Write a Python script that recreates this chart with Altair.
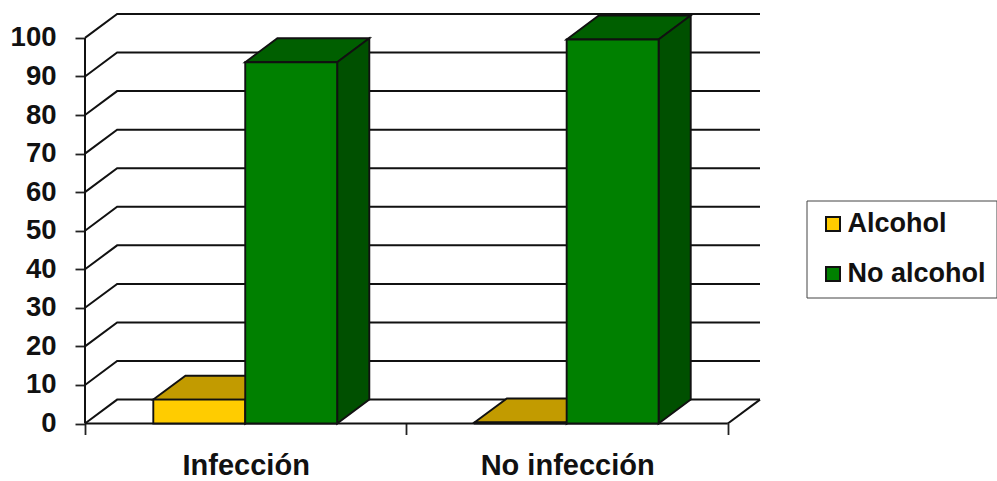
import altair as alt
import pandas as pd

categories = ["Infección", "No infección"]
series_names = ["Alcohol", "No alcohol"]
alcohol = [6.2, 0.3]
no_alcohol = [93.7, 99.6]
y_ticks = [0, 10, 20, 30, 40, 50, 60, 70, 80, 90, 100]

front_colors = ["#FFCC00", "#008000"]
top_colors = ["#C29B00", "#005F00"]
side_colors = ["#997A00", "#005000"]

# Depth of the pseudo-3D box, expressed in axis units
DX = 0.1
DY = 6.2
BAR_START = 0.2125
BAR_WIDTH = 0.286
X_MAX = 2.1
Y_MAX = 106.2
FONT = "Liberation Sans"

x_scale = alt.Scale(domain=[0, X_MAX], nice=False, zero=False)
y_scale = alt.Scale(domain=[0, Y_MAX], nice=False)

# Back wall and floor lines
grid_rows = []
for v in y_ticks:
    for x, y in [(0, v), (DX, v + DY), (X_MAX, v + DY)]:
        grid_rows.append({"x": x, "y": y, "line": f"g{v}"})
floor_rows = [
    {"x": 0, "y": 0, "line": "front"},
    {"x": 2, "y": 0, "line": "front"},
    {"x": 2, "y": 0, "line": "side"},
    {"x": X_MAX, "y": DY, "line": "side"},
    {"x": 0, "y": 0, "line": "axis"},
    {"x": 0, "y": 100, "line": "axis"},
]

front_rows, top_rows, side_rows = [], [], []
for s, (name, values) in enumerate(zip(series_names, [alcohol, no_alcohol])):
    for c, v in enumerate(values):
        x0 = c + BAR_START + s * BAR_WIDTH
        x1 = x0 + BAR_WIDTH
        key = f"{s}-{c}"
        front_rows.append({"x": x0, "x2": x1, "y": 0, "y2": v, "series": name})
        for x, y, y2 in [
            (x0, v, v),
            (x0 + DX, v + DY, v),
            (x1, v + DY, v),
            (x1 + DX, v + DY, v + DY),
        ]:
            top_rows.append({"x": x, "y": y, "y2": y2, "key": key, "s": s})
        for x, y, y2 in [(x1, 0, v), (x1 + DX, DY, v + DY)]:
            side_rows.append({"x": x, "y": y, "y2": y2, "key": key, "s": s})

top_df = pd.DataFrame(top_rows)
side_df = pd.DataFrame(side_rows)

x_axis = alt.Axis(
    values=[0, 0.5, 1, 1.5, 2],
    title=None,
    domain=False,
    grid=False,
    tickSize=11,
    tickWidth=1.8,
    tickColor="#222222",
    tickOpacity=alt.expr("datum.value % 1 === 0 ? 1 : 0"),
    labelExpr="datum.value === 0.5 ? 'Infección' : datum.value === 1.5 ? 'No infección' : ''",
    labelFont=FONT,
    labelFontSize=29,
    labelFontWeight="bold",
    labelColor="#111111",
    labelPadding=17,
    labelOverlap=False,
    labelFlush=False,
    labelBound=False,
)
y_axis = alt.Axis(
    values=y_ticks,
    title=None,
    domain=False,
    grid=False,
    tickSize=10,
    tickWidth=1.8,
    tickColor="#222222",
    labelFont=FONT,
    labelFontSize=27.5,
    labelFontWeight="bold",
    labelColor="#111111",
    labelPadding=19,
    labelOverlap=False,
)


def line_layer(rows, width):
    return (
        alt.Chart(pd.DataFrame(rows))
        .mark_line(color="#111111", strokeWidth=width, interpolate="linear", clip=False)
        .encode(
            x=alt.X("x:Q", scale=x_scale, axis=x_axis),
            y=alt.Y("y:Q", scale=y_scale, axis=y_axis),
            detail="line:N",
        )
    )


def face_layer(df, fill):
    return (
        alt.Chart(df)
        .mark_area(fill=fill, stroke="#111111", strokeWidth=1.9, interpolate="linear")
        .encode(
            x=alt.X("x:Q", scale=x_scale),
            y=alt.Y("y:Q", scale=y_scale, stack=None),
            y2="y2:Q",
            detail="key:N",
        )
    )


layers = [line_layer(grid_rows, 2), line_layer(floor_rows, 2)]
for s in range(2):
    layers.append(face_layer(top_df[top_df.s == s], top_colors[s]))
    layers.append(face_layer(side_df[side_df.s == s], side_colors[s]))

fronts = (
    alt.Chart(pd.DataFrame(front_rows))
    .mark_rect(stroke="#111111", strokeWidth=1.9)
    .encode(
        x=alt.X("x:Q", scale=x_scale),
        x2="x2:Q",
        y=alt.Y("y:Q", scale=y_scale),
        y2="y2:Q",
        color=alt.Color(
            "series:N",
            scale=alt.Scale(domain=series_names, range=front_colors),
            legend=alt.Legend(
                title=None,
                orient="none",
                legendX=721.5,
                legendY=186.5,
                padding=10,
                fillColor="white",
                strokeColor="#444444",
                symbolType="square",
                symbolSize=196,
                symbolStrokeColor="#111111",
                symbolStrokeWidth=2,
                symbolOffset=3,
                labelOffset=1,
                labelFont=FONT,
                labelFontSize=27,
                labelFontWeight="bold",
                labelColor="#111111",
                rowPadding=22,
                labelLimit=200,
            ),
        ),
    )
)
layers.append(fronts)

chart = (
    alt.layer(*layers)
    .properties(
        width=675,
        height=409.5,
        padding={"left": 85, "top": 14, "right": 237, "bottom": 57.5},
        autosize=alt.AutoSizeParams(type="none"),
        background="white",
    )
    .configure_view(stroke=None)
)

chart.save("out.html", embed_options={"renderer": "svg", "actions": False})
